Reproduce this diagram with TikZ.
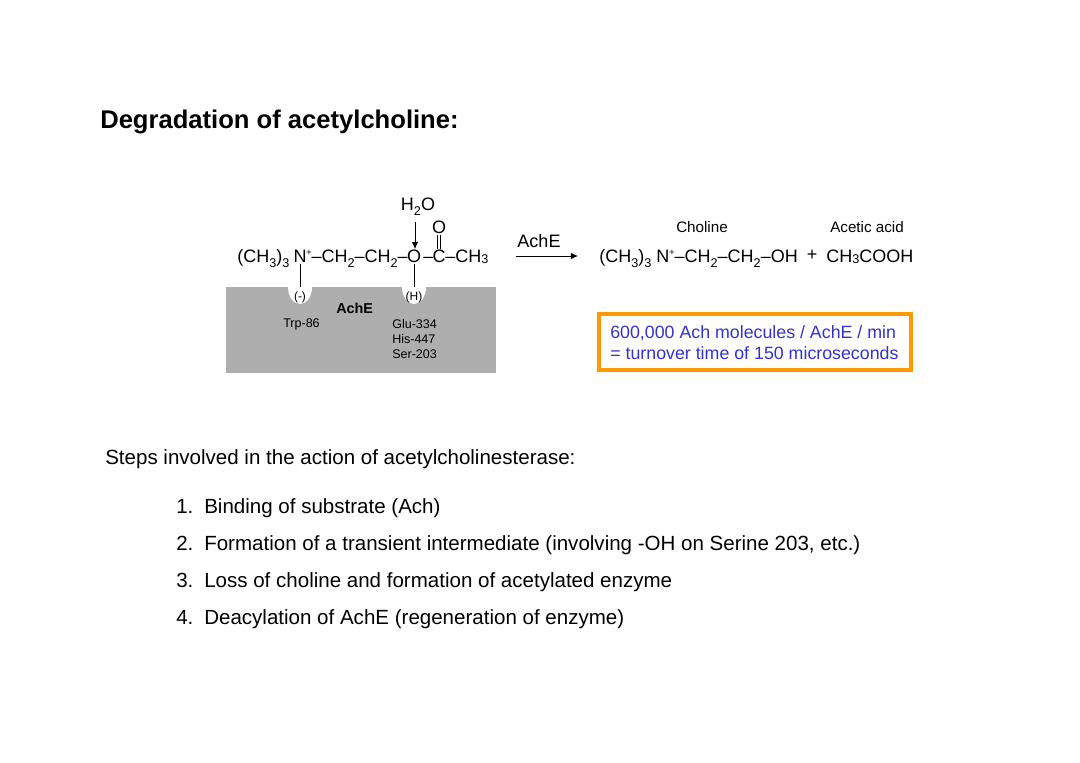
\documentclass[tikz,border=0pt]{standalone}
\usepackage{xcolor}
\usepackage{fontspec}
\usetikzlibrary{shapes.geometric, arrows.meta}
\setmainfont{Liberation Sans}
\definecolor{enzymeGray}{RGB}{174, 174, 174}
\definecolor{boxOrange}{RGB}{255, 153, 0}
\definecolor{noteBlue}{RGB}{51, 51, 204}
\newcommand{\subs}[1]{\raisebox{-0.6ex}{\fontsize{9}{9}\selectfont #1}}
\newcommand{\subl}[1]{\raisebox{-0.15ex}{\fontsize{9}{9}\selectfont #1}}
\newcommand{\sups}[1]{\raisebox{0.7ex}{\fontsize{6.5}{7}\selectfont #1}}
\tikzset{
  titletext/.style={anchor=base west, inner sep=0, font=\fontsize{18.2}{20}\selectfont\bfseries},
  bodytext/.style={anchor=base west, inner sep=0, font=\fontsize{14.6}{17}\selectfont},
  chemtext/.style={anchor=base, inner sep=0, font=\fontsize{12.8}{15}\selectfont},
  smalltext/.style={anchor=base, inner sep=0, font=\fontsize{10.8}{12}\selectfont},
  tinytext/.style={anchor=base west, inner sep=0, font=\fontsize{8.9}{11}\selectfont},
  notetext/.style={anchor=base west, inner sep=0, text=noteBlue, font=\fontsize{12.65}{15}\selectfont},
  pocket/.style={ellipse, fill=white, minimum width=24*0.025cm, minimum height=34*0.025cm, inner sep=0},
  pockettext/.style={inner sep=0, minimum height=20*0.025cm, font=\fontsize{8.5}{10}\selectfont},
  bond/.style={line width=0.6pt, black},
  reacts/.style={bond, -{Latex[length=5pt, width=4.5pt]}}
}
\begin{document}
\begin{tikzpicture}[x=0.025cm, y=-0.025cm]
  \useasboundingbox (0,0) rectangle (1080,763);
  \node[titletext] (title) at (100,128) {Degradation of acetylcholine:};

  % enzyme surface
  \node[fill=enzymeGray, anchor=north west, inner sep=0, minimum width=270*0.025cm, minimum height=86*0.025cm] (enzyme) at (226,287) {};
  \node[pocket] (pocketN) at (300,287) {};
  \node[pocket] (pocketH) at (414,287) {};
  \node[pockettext] (minus) at (300,297) {(-)};
  \node[pockettext] (hydro) at (414,297) {(H)};
  \node[tinytext, font=\fontsize{10.2}{12}\selectfont\bfseries] (achelabel) at (336,313) {AchE};
  \node[tinytext] (trp) at (283,327) {Trp-86};
  \node[tinytext] (glu) at (392,328) {Glu-334};
  \node[tinytext] (his) at (392,343) {His-447};
  \node[tinytext] (ser) at (392,358) {Ser-203};

  % substrate
  \node[chemtext, anchor=base west] (methyl) at (237,262) {(CH\subs{3})\subs{3}};
  \node[chemtext] (nitro) at (300,262) {N};
  \node[chemtext, anchor=base west] (chain) at (306,262) {\sups{+}–CH\subs{2}–CH\subs{2}–};
  \node[chemtext] (oxy) at (414,262) {O};
  \node[chemtext, anchor=base west] (dash) at (423,262) {–};
  \node[chemtext] (carb) at (439,262) {C};
  \node[chemtext, anchor=base west] (tail) at (445,262) {–CH\subl{3}};
  \node[chemtext] (carbonyl) at (439,233) {O};
  \node[chemtext] (water) at (418,210) {H\subs{2}O};

  \draw[bond, shorten <=1pt] (nitro.south) -- (minus.north);
  \draw[bond, shorten <=1pt] (oxy.south) -- (hydro.north);
  \coordinate (waterend) at (415,222);
  \draw[reacts] (waterend) -- (oxy.north -| waterend);
  \draw[bond, double, double distance=1.4pt, line width=0.4pt, shorten <=1pt] (carbonyl.south) -- (carb.north);

  % reaction arrow
  \node[chemtext, anchor=base] (arrowlabel) at (539,247) {AchE};
  \coordinate (arrowstart) at (516,256);
  \coordinate (arrowend) at (578,256);
  \draw[reacts] (arrowstart) -- (arrowend);

  % products
  \node[smalltext] (choline) at (702,232) {Choline};
  \node[smalltext] (acetic) at (867,232) {Acetic acid};
  \node[chemtext, anchor=base west] (product) at (599,262) {(CH\subs{3})\subs{3} N\sups{+}–CH\subs{2}–CH\subs{2}–OH};
  \node[chemtext] (plus) at (812,260) {+};
  \node[chemtext, anchor=base west] (acid) at (826,262) {CH\subl{3}COOH};

  % turnover note
  \node[draw=boxOrange, line width=3pt, fill=white, anchor=north west, minimum width=312*0.025cm, minimum height=56*0.025cm, inner sep=0] (notebox) at (597,312) {};
  \node[notetext] (noteA) at (610,338) {600,000 Ach molecules / AchE / min};
  \node[notetext] (noteB) at (610,359) {= turnover time of 150 microseconds};

  % steps
  \node[bodytext] (steps) at (105,464) {Steps involved in the action of acetylcholinesterase:};
  \node[bodytext] (numA) at (176,513) {1.};
  \node[bodytext] (itemA) at (204,513) {Binding of substrate (Ach)};
  \node[bodytext] (numB) at (176,550) {2.};
  \node[bodytext] (itemB) at (204,550) {Formation of a transient intermediate (involving -OH on Serine 203, etc.)};
  \node[bodytext] (numC) at (176,587) {3.};
  \node[bodytext] (itemC) at (204,587) {Loss of choline and formation of acetylated enzyme};
  \node[bodytext] (numD) at (176,624) {4.};
  \node[bodytext] (itemD) at (204,624) {Deacylation of AchE (regeneration of enzyme)};
\end{tikzpicture}
\end{document}
